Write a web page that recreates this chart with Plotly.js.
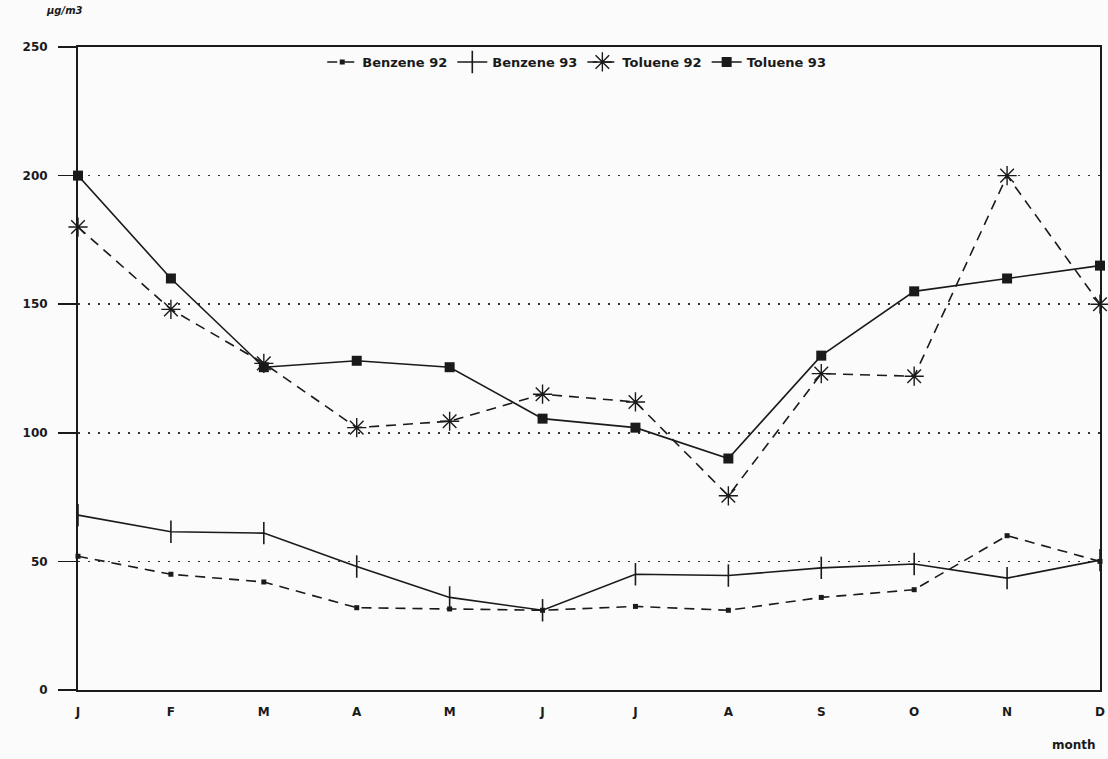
<!DOCTYPE html>
<html>
<head>
<meta charset="utf-8">
<script src="https://cdn.plot.ly/plotly-3.0.1.min.js"></script>
<style>html,body{margin:0;padding:0;background:#fbfbfb;}#chart{width:1108px;height:759px;}</style>
</head>
<body>
<div id="chart"></div>
<script>
const months = ["J","F","M","A","M","J","J","A","S","O","N","D"];
const monthIdx = [0,1,2,3,4,5,6,7,8,9,10,11];
const benzene92 = [52, 45, 42, 32, 31.5, 31, 32.5, 31, 36, 39, 60, 50];
const benzene93 = [68, 61.5, 61, 48, 36, 31, 45, 44.5, 47.5, 49, 43.5, 50.5];
const toluene92 = [180, 148, 127, 102, 104.5, 115, 112, 75.5, 123, 122, 200, 150];
const toluene93 = [200, 160, 125.5, 128, 125.5, 105.5, 102, 90, 130, 155, 160, 165];
const yTicks = [0, 50, 100, 150, 200, 250];

const fontFam = "DejaVu Sans, Verdana, sans-serif";
const ink = "#1a1a1a";

const traces = [
  {name: "Benzene 92", x: monthIdx, y: benzene92, mode: "lines+markers",
   line: {color: ink, width: 1.6, dash: "10px,7px"},
   marker: {symbol: "square", size: 5, color: ink}, cliponaxis: false},
  {name: "Benzene 93", x: monthIdx, y: benzene93, mode: "lines+markers",
   line: {color: ink, width: 1.6},
   marker: {symbol: "line-ns", size: 16, line: {color: ink, width: 1.6}}, cliponaxis: false},
  {name: "Toluene 92", x: monthIdx, y: toluene92, mode: "lines+markers",
   line: {color: ink, width: 1.6, dash: "10px,7px"},
   marker: {symbol: "asterisk-open", size: 16, line: {color: ink, width: 1.4}}, cliponaxis: false},
  {name: "Toluene 93", x: monthIdx, y: toluene93, mode: "lines+markers",
   line: {color: ink, width: 1.6},
   marker: {symbol: "square", size: 10, color: ink}, cliponaxis: false}
];

const layout = {
  width: 1108, height: 759,
  margin: {l: 78, r: 8, t: 47, b: 69},
  paper_bgcolor: "#fbfbfb",
  plot_bgcolor: "#fbfbfb",
  showlegend: true,
  legend: {orientation: "h", x: 0.488, xanchor: "center", y: 1.0, yanchor: "top",
           bgcolor: "rgba(0,0,0,0)", font: {family: fontFam, size: 13, color: ink, weight: "bold"},
           itemwidth: 30, tracegroupgap: 0},
  xaxis: {
    tickmode: "array", tickvals: monthIdx, ticktext: months,
    range: [0, 11], showgrid: false, zeroline: false,
    showline: true, linecolor: ink, linewidth: 2, mirror: true,
    ticks: "", ticklabelstandoff: 10,
    tickfont: {family: fontFam, size: 12, color: ink, weight: "bold"}
  },
  yaxis: {
    range: [0, 250], tickmode: "array", tickvals: yTicks,
    showgrid: true, gridcolor: "#333", gridwidth: 1.6, griddash: "2px,8px",
    zeroline: false, showline: true, linecolor: ink, linewidth: 2, mirror: true,
    ticks: "outside", ticklen: 18, tickwidth: 1.6, tickcolor: ink, ticklabelstandoff: 8,
    tickfont: {family: fontFam, size: 12, color: ink, weight: "bold"}
  },
  annotations: [
    {text: "<i>µg/m3</i>", xref: "paper", yref: "paper", x: -0.013, y: 1.045, xanchor: "center", yanchor: "bottom",
     showarrow: false, font: {family: fontFam, size: 10, color: ink, weight: "bold"}},
    {text: "month", xref: "paper", yref: "paper", x: 0.998, y: -0.085, xanchor: "right", yanchor: "middle",
     showarrow: false, font: {family: fontFam, size: 12, color: ink, weight: "bold"}}
  ]
};

Plotly.newPlot("chart", traces, layout, {displayModeBar: false, staticPlot: true});
</script>
</body>
</html>
